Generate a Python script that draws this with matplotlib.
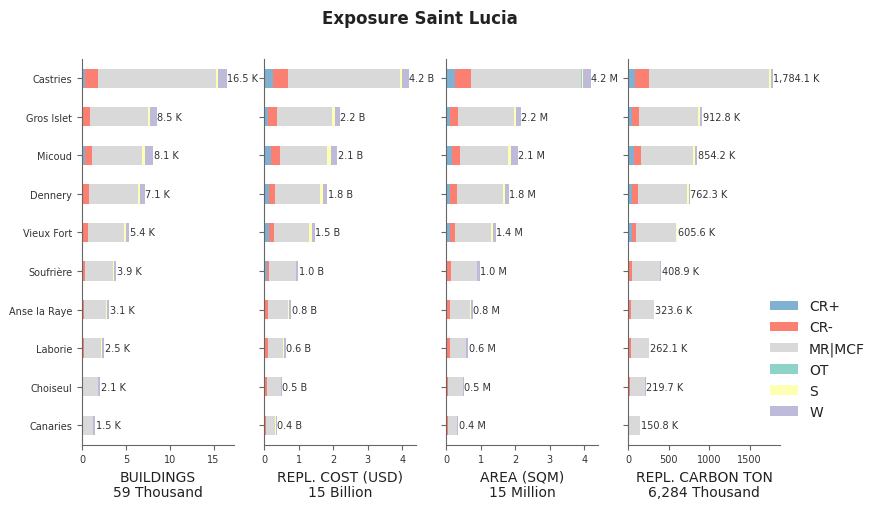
import matplotlib
matplotlib.use("Agg")
import matplotlib.pyplot as plt
import numpy as np

regions = ["Castries", "Gros Islet", "Micoud", "Dennery", "Vieux Fort",
           "Soufrière", "Anse la Raye", "Laborie", "Choiseul", "Canaries"]
classes = ["CR+", "CR-", "MR|MCF", "OT", "S", "W"]
colors = ["#80b1d3", "#fb8072", "#d9d9d9", "#8dd3c7", "#ffffb3", "#bebada"]

# BUILDINGS (thousands)
bld_cr_plus = [0.38, 0.08, 0.30, 0.05, 0.02, 0.02, 0.02, 0.02, 0.01, 0.01]
bld_cr_minus = [1.48, 0.87, 0.87, 0.80, 0.70, 0.36, 0.25, 0.25, 0.10, 0.10]
bld_mr_mcf = [13.45, 6.62, 5.70, 5.48, 4.10, 3.20, 2.50, 1.90, 1.66, 1.14]
bld_ot = [0, 0, 0, 0, 0, 0, 0, 0, 0, 0]
bld_s = [0.23, 0.22, 0.34, 0.23, 0.23, 0.02, 0.10, 0.10, 0.10, 0.02]
bld_w = [0.96, 0.71, 0.89, 0.57, 0.35, 0.30, 0.23, 0.23, 0.23, 0.23]

# REPL. COST (billion USD)
cost_cr_plus = [0.27, 0.125, 0.21, 0.135, 0.135, 0.077, 0.02, 0.02, 0.01, 0.005]
cost_cr_minus = [0.43, 0.26, 0.26, 0.19, 0.164, 0.077, 0.106, 0.106, 0.09, 0.04]
cost_mr_mcf = [3.23, 1.58, 1.36, 1.30, 1.00, 0.76, 0.57, 0.43, 0.38, 0.27]
cost_ot = [0, 0, 0, 0, 0, 0, 0, 0, 0, 0]
cost_s = [0.06, 0.087, 0.116, 0.087, 0.087, 0.01, 0.03, 0.01, 0.005, 0.02]
cost_w = [0.20, 0.145, 0.17, 0.116, 0.087, 0.058, 0.058, 0.058, 0.03, 0.03]

# AREA (million sqm)
area_cr_plus = [0.25, 0.126, 0.184, 0.126, 0.126, 0.02, 0.02, 0.01, 0.005, 0.005]
area_cr_minus = [0.46, 0.233, 0.233, 0.204, 0.146, 0.136, 0.107, 0.097, 0.058, 0.04]
area_mr_mcf = [3.20, 1.60, 1.37, 1.31, 1.02, 0.73, 0.56, 0.47, 0.42, 0.26]
area_ot = [0.015, 0, 0, 0, 0, 0, 0, 0, 0, 0]
area_s = [0.03, 0.058, 0.087, 0.058, 0.058, 0.005, 0.03, 0.005, 0.005, 0.02]
area_w = [0.23, 0.146, 0.204, 0.117, 0.087, 0.087, 0.058, 0.058, 0.03, 0.03]

# REPL. CARBON TON (thousands)
carb_cr_plus = [90, 53, 78, 53, 53, 12, 12, 12, 0, 2]
carb_cr_minus = [172, 86, 86, 74, 49, 41, 29, 29, 25, 12]
carb_mr_mcf = [1472.1, 723.8, 640.2, 602.3, 485.6, 343.9, 274.6, 221.1, 186.7, 136.8]
carb_ot = [0, 0, 0, 0, 0, 0, 0, 0, 0, 0]
carb_s = [25, 25, 25, 25, 12, 0, 8, 0, 0, 0]
carb_w = [25, 25, 25, 8, 6, 12, 0, 0, 8, 0]

panels = [
    ("BUILDINGS", "Thousand", "{:.1f} K",
     [bld_cr_plus, bld_cr_minus, bld_mr_mcf, bld_ot, bld_s, bld_w], [0, 5, 10, 15]),
    ("REPL. COST (USD)", "Billion", "{:.1f} B",
     [cost_cr_plus, cost_cr_minus, cost_mr_mcf, cost_ot, cost_s, cost_w], [0, 1, 2, 3, 4]),
    ("AREA (SQM)", "Million", "{:.1f} M",
     [area_cr_plus, area_cr_minus, area_mr_mcf, area_ot, area_s, area_w], [0, 1, 2, 3, 4]),
    ("REPL. CARBON TON", "Thousand", "{:,.1f} K",
     [carb_cr_plus, carb_cr_minus, carb_mr_mcf, carb_ot, carb_s, carb_w], [0, 500, 1000, 1500]),
]

txt = "#333333"
spine_c = "#666666"

fig = plt.figure(figsize=(8.8, 5.1), dpi=100)
lefts = [82, 264, 446, 628]
y = np.arange(len(regions))
handles = []
for i, (name, unit, fmt, series, xt) in enumerate(panels):
    ax = fig.add_axes([lefts[i] / 880, 64.5 / 510, 152 / 880, 385.5 / 510])
    left = np.zeros(len(regions))
    for k, (vals, col) in enumerate(zip(series, colors)):
        v = np.array(vals, dtype=float)
        b = ax.barh(y, v, left=left, height=0.5, color=col, linewidth=0, label=classes[k])
        if i == 0:
            handles.append(b)
        left = left + v
    totals = left
    for yy, t in zip(y, totals):
        ax.text(t + totals.max() * 0.004, yy, fmt.format(t), va="center", ha="left",
                fontsize=7, color=txt)
    ax.set_xlim(0, totals.max() * 1.05)
    ax.set_ylim(9.5, -0.5)
    ax.set_yticks(y)
    if i == 0:
        ax.set_yticklabels(regions, fontsize=7, color=txt)
    else:
        ax.set_yticklabels([])
    ax.set_xticks(xt)
    ax.set_xticklabels([str(v) for v in xt], fontsize=7, color=txt)
    total_all = totals.sum()
    ax.set_xlabel(f"{name}\n{total_all:,.0f} {unit}", fontsize=10, color="#222222",
                  linespacing=1.1)
    for s in ["top", "right"]:
        ax.spines[s].set_visible(False)
    for s in ["left", "bottom"]:
        ax.spines[s].set_color(spine_c)
    ax.tick_params(axis="both", colors=spine_c, labelcolor=txt, length=3.5)

fig.legend(handles, classes, loc="center left", bbox_to_anchor=(0.861, 0.294),
           frameon=False, fontsize=10, handlelength=2.0, labelspacing=0.5,
           labelcolor="#222222")
fig.suptitle("Exposure Saint Lucia", x=0.477, y=0.98, fontsize=12, fontweight="bold",
             color="#222222")
fig.savefig("out.png", dpi=100)
